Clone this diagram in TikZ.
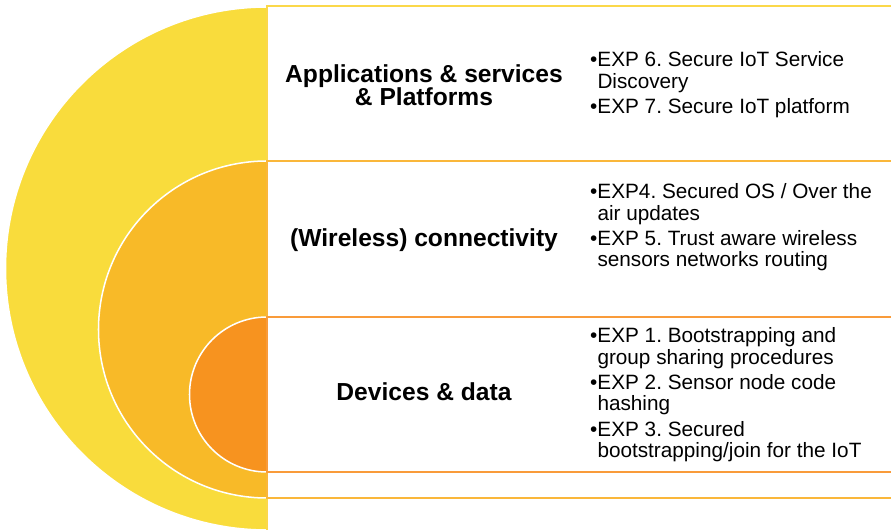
\documentclass[tikz,border=0pt]{standalone}
\usepackage{fontspec}
\setmainfont{Liberation Sans}
\frenchspacing
\definecolor{layerA}{HTML}{F9DC3C}
\definecolor{layerB}{HTML}{F8BA28}
\definecolor{layerC}{HTML}{F7931F}
\definecolor{lineA}{HTML}{FBD84A}
\definecolor{lineB}{HTML}{FAB73A}
\definecolor{lineC}{HTML}{F99B3A}
\begin{document}
\begin{tikzpicture}[x=0.03cm, y=0.03cm,
    ring/.style={line width=1.3pt, draw=white},
    band/.style={line width=1.7pt},
    title/.style={font=\fontsize{21}{19.6}\selectfont\bfseries, align=center},
    exps/.style={anchor=base west, inner sep=0pt, font=\fontsize{17.7}{17.9}\selectfont}]
  \useasboundingbox (0,0) rectangle (891,530);
  % half discs, centre on the line x=267: centre y / radius / colour
  \foreach \cy/\r/\col in {261.5/261.5/layerA, 200.5/168.5/layerB, 135.5/77.5/layerC}
    \filldraw[ring, fill=\col] (267,\cy+\r) arc[start angle=90, end angle=270, radius=\r] -- cycle;
  % band frames, open to the right
  \draw[band, lineA] (900,524) -- (267,524) -- (267,0);
  \foreach \top/\bot/\col in {369/32/lineB, 213/58/lineC}
    \draw[band, \col] (900,\top) -- (267,\top) -- (267,\bot) -- (900,\bot);
  % layer titles
  \node[title] (apps) at (424,445) {Applications \& services\\\& Platforms};
  \node[title] (conn) at (424,290) {(Wireless) connectivity};
  \node[title] (devs) at (424,138) {Devices \& data};
  % experiments per layer
  \node[exps] (exp67) at (590,463) {\begin{tabular}[t]{@{}l@{}l@{}}
    \textbullet & EXP 6. Secure IoT Service\\
                & Discovery\\[3.4pt]
    \textbullet & EXP 7. Secure IoT platform
  \end{tabular}};
  \node[exps] (exp45) at (590,331) {\begin{tabular}[t]{@{}l@{}l@{}}
    \textbullet & EXP4. Secured OS / Over the\\
                & air updates\\[3.4pt]
    \textbullet & EXP 5. Trust aware wireless\\
                & sensors networks routing
  \end{tabular}};
  \node[exps] (exp123) at (590,187) {\begin{tabular}[t]{@{}l@{}l@{}}
    \textbullet & EXP 1. Bootstrapping and\\
                & group sharing procedures\\[3.4pt]
    \textbullet & EXP 2. Sensor node code\\
                & hashing\\[3.4pt]
    \textbullet & EXP 3. Secured\\
                & bootstrapping/join for the IoT
  \end{tabular}};
\end{tikzpicture}
\end{document}
